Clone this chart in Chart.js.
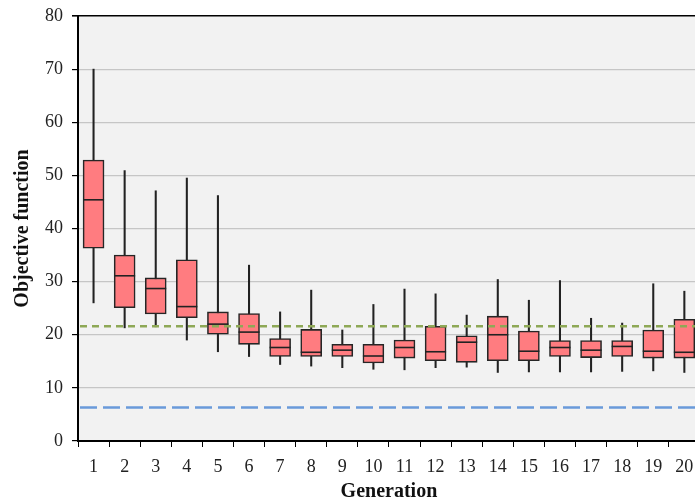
<!DOCTYPE html>
<html>
<head>
<meta charset="utf-8">
<script src="https://cdn.jsdelivr.net/npm/chart.js@4"></script>
<style>
  html, body { margin: 0; padding: 0; background: #fff; overflow: hidden; }
  #wrap { width: 712px; height: 501px; }
</style>
</head>
<body>
<div id="wrap"><canvas id="myChart" width="712" height="501"></canvas></div>
<script>
var generations = ['1','2','3','4','5','6','7','8','9','10','11','12','13','14','15','16','17','18','19','20'];
var whiskerMin = [26.0, 21.3, 21.5, 19.0, 16.8, 15.9, 14.4, 14.1, 13.8, 13.5, 13.4, 13.8, 13.9, 12.9, 13.0, 13.0, 13.0, 13.1, 13.2, 12.9];
var q1         = [36.3, 25.1, 23.9, 23.2, 20.1, 18.2, 15.9, 15.9, 15.9, 14.7, 15.6, 15.1, 14.8, 15.1, 15.1, 15.9, 15.7, 15.9, 15.6, 15.6];
var median     = [45.4, 31.1, 28.7, 25.3, 22.0, 20.5, 17.6, 16.7, 17.1, 16.0, 17.6, 16.8, 18.6, 20.0, 16.9, 17.6, 17.1, 17.8, 16.9, 16.7];
var q3         = [52.9, 35.0, 30.7, 34.1, 24.3, 24.0, 19.3, 21.0, 18.2, 18.2, 19.0, 21.6, 19.8, 23.5, 20.7, 18.9, 18.9, 18.9, 20.9, 22.9];
var whiskerMax = [70.0, 50.9, 47.1, 49.5, 46.2, 33.1, 24.3, 28.4, 20.9, 25.7, 28.6, 27.7, 23.7, 30.4, 26.5, 30.2, 23.1, 22.2, 29.6, 28.2];
var refGreen = 21.6;
var refBlue = 6.3;

var boxes = generations.map(function (g, i) { return [q1[i], q3[i]]; });
var whiskers = generations.map(function (g, i) { return [whiskerMin[i], whiskerMax[i]]; });

var plotBackground = {
  id: 'plotBackground',
  beforeDraw: function (chart) {
    var c = chart.ctx, a = chart.chartArea;
    c.save();
    c.fillStyle = '#ffffff';
    c.fillRect(0, 0, chart.width, chart.height);
    c.fillStyle = '#F2F2F2';
    c.fillRect(a.left, a.top, a.right - a.left, a.bottom - a.top);
    c.restore();
  }
};

var refLines = {
  id: 'refLines',
  afterDatasetsDraw: function (chart) {
    var c = chart.ctx, a = chart.chartArea, y = chart.scales.y;
    function dashed(v, color, dash) {
      var py = y.getPixelForValue(v);
      c.save();
      c.strokeStyle = color;
      c.lineWidth = 2.5;
      c.setLineDash(dash);
      c.beginPath();
      c.moveTo(a.left + 2, py);
      c.lineTo(a.right, py);
      c.stroke();
      c.restore();
    }
    dashed(refGreen, '#8EA856', [7, 5]);
    dashed(refBlue, '#6A9ADA', [17, 6]);
  }
};

var ctx = document.getElementById('myChart').getContext('2d');
var myChart = new Chart(ctx, {
  type: 'bar',
  data: {
    labels: generations,
    datasets: [
      {
        type: 'line',
        data: median,
        showLine: false,
        pointStyle: 'line',
        pointRadius: 10.5,
        pointHoverRadius: 10.5,
        pointBorderWidth: 1.6,
        pointBorderColor: '#222222',
        order: 0
      },
      {
        data: boxes,
        grouped: false,
        barThickness: 21,
        backgroundColor: '#FF7C80',
        borderColor: '#262626',
        borderWidth: 1.6,
        borderSkipped: false,
        order: 1
      },
      {
        data: whiskers,
        grouped: false,
        barThickness: 1.4,
        backgroundColor: '#222222',
        borderWidth: 0,
        order: 2
      }
    ]
  },
  options: {
    responsive: false,
    animation: false,
    events: [],
    layout: { padding: { top: 16, right: 10, bottom: 0, left: 0 } },
    plugins: {
      legend: { display: false },
      tooltip: { enabled: false }
    },
    scales: {
      y: {
        min: 0,
        max: 80,
        afterFit: function (scale) {
          scale.width = 78;
          scale.paddingTop = 0;
          scale.paddingBottom = 0;
        },
        ticks: {
          stepSize: 10,
          padding: 9,
          color: '#222',
          font: { family: 'Liberation Serif', size: 18 }
        },
        grid: {
          color: function (c) { return c.tick && c.tick.value === 80 ? '#000000' : '#C6C6C6'; },
          lineWidth: function (c) { return c.tick && c.tick.value === 80 ? 1.6 : 1.2; },
          tickColor: '#000000',
          tickLength: 6
        },
        border: { color: '#000000', width: 2 },
        title: {
          display: true,
          text: 'Objective function',
          color: '#111',
          padding: { top: 11, bottom: 0 },
          font: { family: 'Liberation Serif', size: 20, weight: 'bold' }
        }
      },
      x: {
        afterFit: function (scale) { scale.height = 60; },
        ticks: {
          padding: 9,
          color: '#222',
          maxRotation: 0,
          autoSkip: false,
          font: { family: 'Liberation Serif', size: 18 }
        },
        grid: {
          drawOnChartArea: false,
          offset: true,
          tickColor: '#000000',
          tickLength: 6
        },
        border: { color: '#000000', width: 2 },
        title: {
          display: true,
          text: 'Generation',
          color: '#111',
          padding: { top: 0, bottom: -3 },
          font: { family: 'Liberation Serif', size: 20, weight: 'bold' }
        }
      }
    }
  },
  plugins: [plotBackground, refLines]
});
</script>
</body>
</html>
